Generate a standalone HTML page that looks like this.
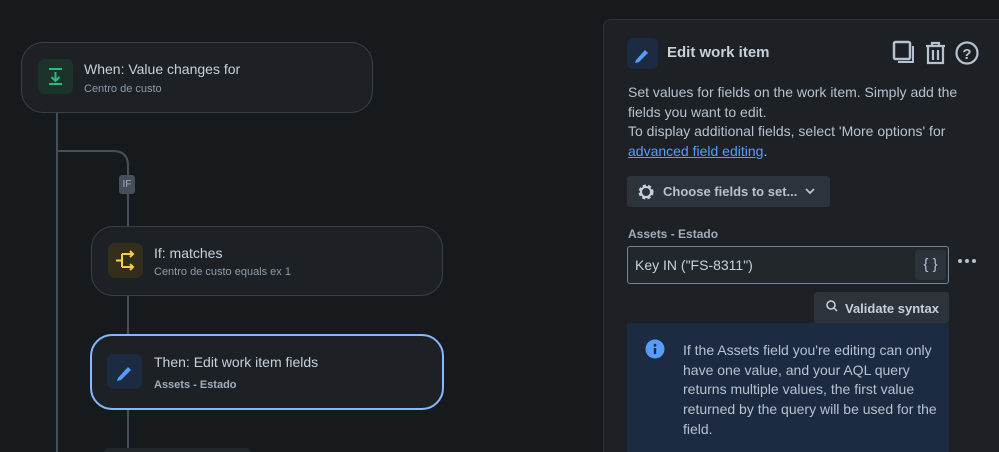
<!DOCTYPE html>
<html style="overflow:hidden;width:999px;height:452px"><head><style>
body{margin:0;width:999px;height:452px;background:#161a1d;overflow:hidden;position:relative;font-family:"Liberation Sans",sans-serif;color:#b6c2cf}
.a{position:absolute}
.node{position:absolute;background:#1d2125;border:1px solid #38414a;border-radius:22px;box-sizing:border-box}
.ic{position:absolute;width:35px;height:35px;border-radius:7px}
.t{position:absolute;font-size:14px;color:#c7d1db;white-space:nowrap}
.s{position:absolute;font-size:11px;color:#8c9bab;white-space:nowrap}
.p{font-size:14px;color:#b6c2cf;line-height:19.7px}
</style></head><body>
<svg class="a" style="left:0;top:0" width="600" height="452">
<path d="M57 112 V452" stroke="#454f59" stroke-width="2" fill="none"/>
<path d="M57 151 H113 Q128 151 128 166 V226" stroke="#454f59" stroke-width="2" fill="none"/>
<path d="M128 295 V334 M128 409 V452" stroke="#454f59" stroke-width="2" fill="none"/>
<rect x="104" y="448" width="146" height="10" rx="4" fill="#22272b"/>
</svg>
<div class="a" style="left:119px;top:175px;width:16px;height:19px;background:#454f59;border-radius:3px;font-size:10px;color:#9fadbc;text-align:center;line-height:19px">IF</div>

<div class="node" style="left:21px;top:42px;width:352px;height:71px">
<div class="ic" style="left:16px;top:16px;background:#1c3329"><svg width="35" height="35"><path d="M11 10H24M17.5 13V22M13.5 18L17.5 22 21.5 18M11 25H24" stroke="#2abb7f" stroke-width="2" fill="none"/></svg></div>
<div class="t" style="left:62px;top:18px">When: Value changes for</div>
<div class="s" style="left:62px;top:40px">Centro de custo</div>
</div>

<div class="node" style="left:91px;top:226px;width:352px;height:70px">
<div class="ic" style="left:16px;top:16px;background:#332e1b"><svg width="35" height="35"><path d="M8 17.5H14M14 11V24M14 11H25M14 24H25M22 8L25 11 22 14M22 21L25 24 22 27" stroke="#f5cd47" stroke-width="2" fill="none"/></svg></div>
<div class="t" style="left:62px;top:18px">If: matches</div>
<div class="s" style="left:62px;top:39px">Centro de custo equals ex 1</div>
</div>

<div class="node" style="left:90px;top:334px;width:354px;height:76px;border:2px solid #85b8ff;background:#1d2125">
<div class="ic" style="left:15px;top:18px;background:#1c2b41"><svg width="35" height="35"><path d="M11 24L21 13 24 16 14 26 10 27Z" fill="#579dff"/></svg></div>
<div class="t" style="left:62px;top:18px">Then: Edit work item fields</div>
<div class="s" style="left:62px;top:43px;font-weight:bold;color:#9fadbc">Assets - Estado</div>
</div>

<div class="a" style="left:603px;top:19px;width:420px;height:440px;background:#1d2125;border:1px solid #2c333a;border-radius:8px"></div>
<div class="a" style="left:627px;top:38px;width:31px;height:31px;background:#1c2b41;border-radius:6px"><svg width="31" height="31"><path d="M9 22L18 12 21 15 12 24 8 25Z" fill="#579dff"/></svg></div>
<div class="a" style="left:667px;top:44px;font-size:15px;font-weight:bold;color:#c7d1db">Edit work item</div>
<svg class="a" style="left:890px;top:38px" width="95" height="32">
<rect x="4" y="4" width="16" height="17" rx="1.5" stroke="#b6c2cf" stroke-width="2.5" fill="none"/><path d="M23 8V24H8" stroke="#b6c2cf" stroke-width="2" fill="none"/>
<path d="M36 8H55M42 8V5H49V8M38 9V25H53V9M43 12V22M48 12V22" stroke="#b6c2cf" stroke-width="2.2" fill="none"/>
<circle cx="77" cy="15" r="10.5" stroke="#b6c2cf" stroke-width="2.2" fill="none"/><text x="77" y="21" font-size="15" font-weight="bold" fill="#b6c2cf" text-anchor="middle" font-family="Liberation Sans">?</text>
</svg>
<div class="a p" style="left:628px;top:83px;width:330px">Set values for fields on the work item. Simply add the fields you want to edit.<br>To display additional fields, select 'More options' for <span style="color:#579dff;text-decoration:underline">advanced field editing</span>.</div>
<div class="a" style="left:627px;top:176px;width:203px;height:31px;background:#2c333a;border-radius:3px"></div>
<svg class="a" style="left:636px;top:182px" width="20" height="20"><circle cx="10" cy="10" r="6" stroke="#c7d1db" stroke-width="3" fill="none" stroke-dasharray="3 2"/><circle cx="10" cy="10" r="5" stroke="#c7d1db" stroke-width="2" fill="none"/></svg>
<div class="a" style="left:663px;top:184px;font-size:13px;font-weight:bold;color:#b6c2cf">Choose fields to set...</div>
<svg class="a" style="left:804px;top:186px" width="12" height="10"><path d="M2 3L6 7 10 3" stroke="#b6c2cf" stroke-width="1.8" fill="none"/></svg>
<div class="a" style="left:628px;top:227px;font-size:12px;font-weight:bold;color:#9fadbc">Assets - Estado</div>
<div class="a" style="left:627px;top:246px;width:322px;height:38px;box-sizing:border-box;border:1px solid #738496;border-radius:3px;background:#22272b"></div>
<div class="a" style="left:635px;top:257px;font-size:14px;color:#c7d1db">Key IN ("FS-8311")</div>
<div class="a" style="left:915px;top:250px;width:31px;height:30px;background:#2c333a;border-radius:3px;text-align:center;line-height:30px;font-size:15px;color:#b6c2cf">{ }</div>
<svg class="a" style="left:957px;top:256px" width="20" height="10"><circle cx="3" cy="5" r="2" fill="#b6c2cf"/><circle cx="10" cy="5" r="2" fill="#b6c2cf"/><circle cx="17" cy="5" r="2" fill="#b6c2cf"/></svg>
<div class="a" style="left:814px;top:292px;width:135px;height:31px;background:#2c333a;border-radius:3px"></div>
<svg class="a" style="left:825px;top:299px" width="14" height="14"><circle cx="6" cy="6" r="4" stroke="#c7d1db" stroke-width="1.5" fill="none"/><path d="M9 9L12 12" stroke="#c7d1db" stroke-width="1.5"/></svg>
<div class="a" style="left:845px;top:301px;font-size:13px;font-weight:bold;color:#c7d1db">Validate syntax</div>
<div class="a" style="left:627px;top:323px;width:322px;height:129px;background:#1c2b41"></div>
<svg class="a" style="left:645px;top:339px" width="20" height="20"><circle cx="10" cy="10" r="9.5" fill="#579dff"/><rect x="8.8" y="9" width="2.4" height="6" fill="#1c2b41"/><circle cx="10" cy="6.2" r="1.4" fill="#1c2b41"/></svg>
<div class="a p" style="left:683px;top:341px;width:262px">If the Assets field you're editing can only have one value, and your AQL query returns multiple values, the first value returned by the query will be used for the field.</div>
</body></html>
